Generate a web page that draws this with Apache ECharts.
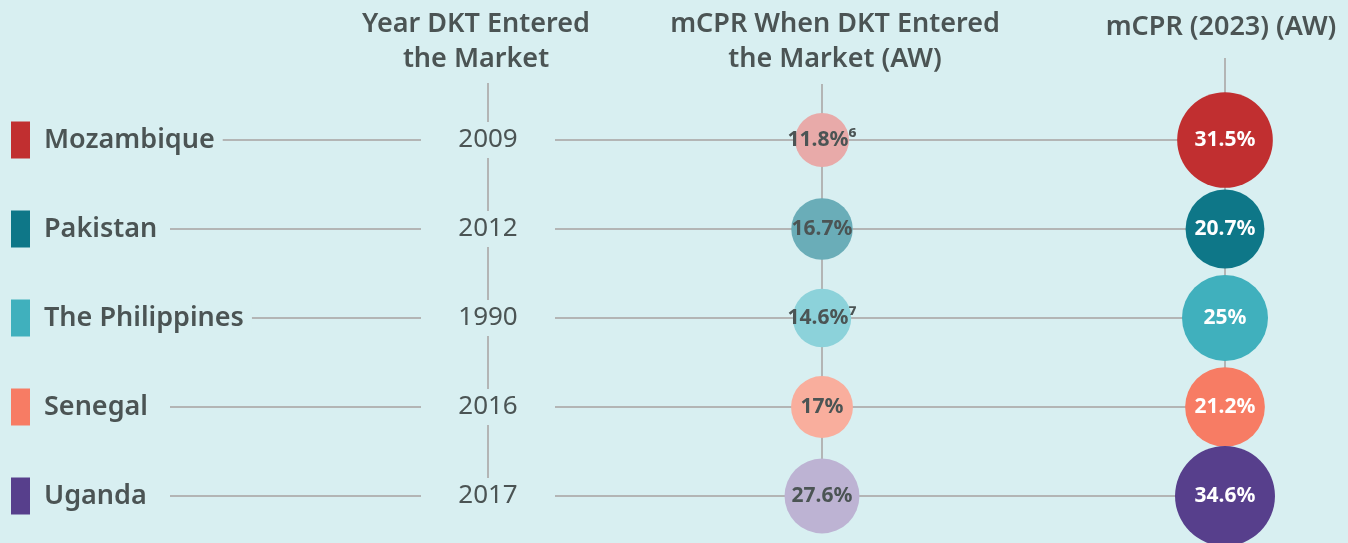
<!DOCTYPE html>
<html>
<head>
<meta charset="utf-8">
<title>DKT mCPR</title>
<script src="https://cdn.jsdelivr.net/npm/echarts@6.0.0/dist/echarts.min.js"></script>
<style>
  html, body { margin: 0; padding: 0; background: #d8eff1; }
  #chart { width: 1348px; height: 543px; }
</style>
</head>
<body>
<div id="chart"></div>
<script>
// 数据
const countries = ['Mozambique', 'Pakistan', 'The Philippines', 'Senegal', 'Uganda']
const yearEntered = ['2009', '2012', '1990', '2016', '2017']
const mcprEntered = [11.8, 16.7, 14.6, 17, 27.6]
const mcpr2023 = [31.5, 20.7, 25, 21.2, 34.6]
const footnotes = ['⁶', '', '⁷', '', '']

// 样式
const bg = '#d8eff1'
const textColor = '#4b5454'
const lineColor = '#b3b5b5'
const darkColors = ['#c12f30', '#0e7788', '#40b0bd', '#f77c64', '#573f8c']
const lightColors = ['#e8aaa9', '#6aadb8', '#8cd2da', '#f9ae9d', '#bdb3d3']
const font = 'Noto Sans'

// 列的位置 (x 轴是布局用的, 0 ~ 1348)
const colSwatch = 20.5
const colYear = 488
const colBefore = 822
const colNow = 1225
const lineStart = 170
// 竖线从标题下方开始
const vTop = { year: 83, before: 84, now: 58 }

const chart = echarts.init(document.getElementById('chart'))

const option = {
  backgroundColor: bg,
  animation: false,
  grid: { left: 0, right: 0, top: 95.5, bottom: 2.5 },
  xAxis: { type: 'value', min: 0, max: 1348, show: false },
  yAxis: { type: 'category', data: countries, inverse: true, show: false },
  graphic: [
    {
      type: 'text', x: 476, y: 42,
      style: {
        text: 'Year DKT Entered\nthe Market', align: 'center', verticalAlign: 'middle',
        fontSize: 27, fontWeight: 600, fontFamily: font, fill: textColor, lineHeight: 35
      }
    },
    {
      type: 'text', x: 835, y: 42,
      style: {
        text: 'mCPR When DKT Entered\nthe Market (AW)', align: 'center', verticalAlign: 'middle',
        fontSize: 27, fontWeight: 600, fontFamily: font, fill: textColor, lineHeight: 35
      }
    },
    {
      type: 'text', x: 1221, y: 27,
      style: {
        text: 'mCPR (2023) (AW)', align: 'center', verticalAlign: 'middle',
        fontSize: 27, fontWeight: 600, fontFamily: font, fill: textColor
      }
    }
  ],
  series: [
    {
      // 连接线
      type: 'custom',
      z: 1,
      silent: true,
      data: countries.map((c, i) => [i]),
      encode: { y: 0 },
      renderItem: (params, api) => {
        const i = api.value(0)
        const y = api.coord([0, i])[1]
        const yPrev = i > 0 ? api.coord([0, i - 1])[1] : null
        const xs = api.coord([lineStart, i])[0]
        const xe = api.coord([colNow, i])[0]
        const style = { stroke: lineColor, lineWidth: 2 }
        const children = [
          { type: 'line', shape: { x1: xs, y1: y, x2: xe, y2: y }, style }
        ]
        const cols = [[colYear, vTop.year], [colBefore, vTop.before], [colNow, vTop.now]]
        cols.forEach(([cx, top]) => {
          const x = api.coord([cx, i])[0]
          children.push({
            type: 'line',
            shape: { x1: x, y1: yPrev === null ? top : yPrev, x2: x, y2: y },
            style
          })
        })
        return { type: 'group', children }
      }
    },
    {
      // 国家名称和色块
      type: 'scatter',
      z: 3,
      symbol: 'rect',
      symbolSize: [19, 37],
      data: countries.map((c, i) => [colSwatch, c]),
      itemStyle: { color: p => darkColors[p.dataIndex], opacity: 1 },
      label: {
        show: true,
        position: 'right',
        distance: 14,
        formatter: p => countries[p.dataIndex],
        color: textColor,
        fontSize: 27,
        fontWeight: 600,
        fontFamily: font,
        backgroundColor: bg,
        padding: [2, 8, 2, 0]
      }
    },
    {
      // 年份 (矩形遮住线)
      type: 'scatter',
      z: 3,
      symbol: 'rect',
      symbolSize: [134, 36],
      data: yearEntered.map((y, i) => [colYear, countries[i]]),
      itemStyle: { color: bg, opacity: 1 },
      label: {
        show: true,
        position: 'inside',
        formatter: p => yearEntered[p.dataIndex],
        color: textColor,
        fontSize: 26,
        fontFamily: font
      }
    },
    {
      // 进入市场时的 mCPR
      type: 'scatter',
      z: 3,
      data: mcprEntered.map((v, i) => [colBefore, countries[i], v]),
      symbolSize: d => 14.5 + 11.5 * Math.sqrt(d[2]),
      itemStyle: { color: p => lightColors[p.dataIndex], opacity: 1 },
      label: {
        show: true,
        position: 'inside',
        formatter: p => mcprEntered[p.dataIndex] + '%' + footnotes[p.dataIndex],
        color: textColor,
        fontSize: 21,
        fontWeight: 700,
        fontFamily: font
      }
    },
    {
      // 2023 mCPR
      type: 'scatter',
      z: 3,
      data: mcpr2023.map((v, i) => [colNow, countries[i], v]),
      symbolSize: d => 7 + 15.8 * Math.sqrt(d[2]),
      itemStyle: { color: p => darkColors[p.dataIndex], opacity: 1 },
      label: {
        show: true,
        position: 'inside',
        formatter: p => mcpr2023[p.dataIndex] + '%',
        color: '#ffffff',
        fontSize: 21,
        fontWeight: 700,
        fontFamily: font
      }
    }
  ]
}

chart.setOption(option)
</script>
</body>
</html>
